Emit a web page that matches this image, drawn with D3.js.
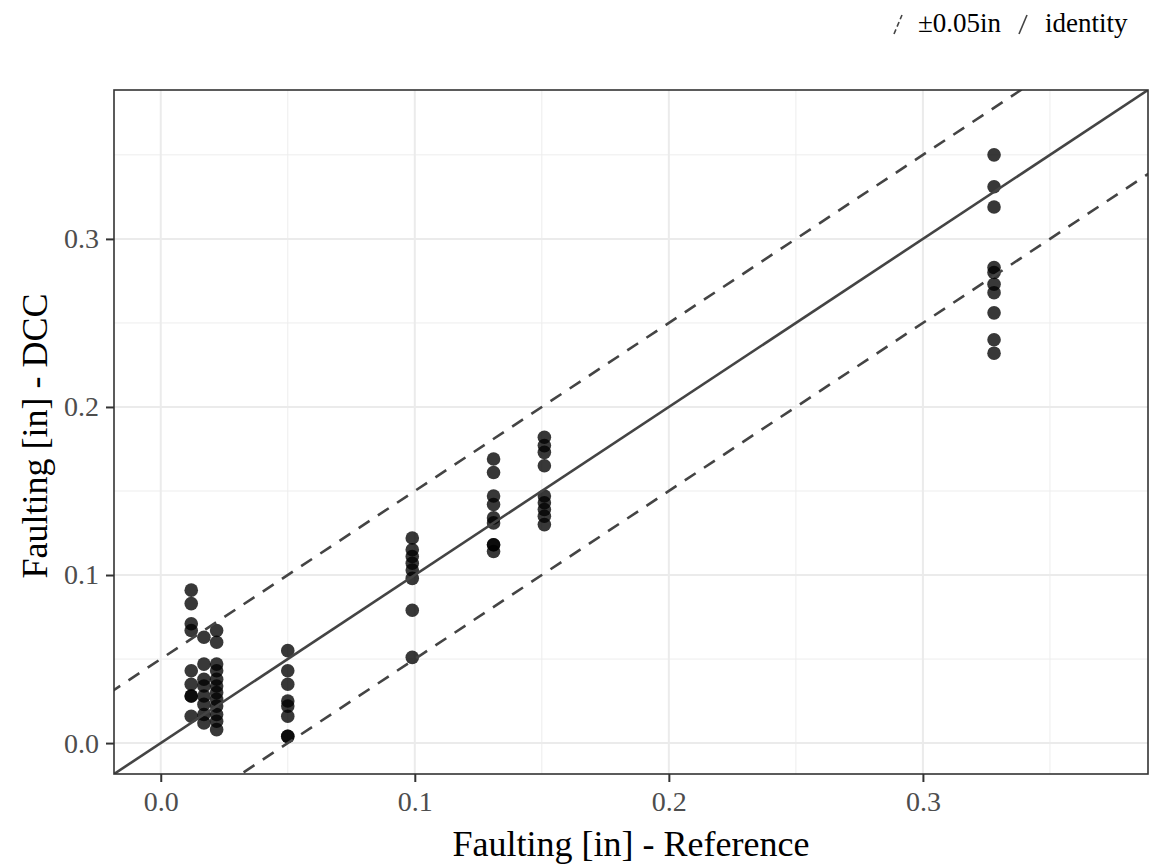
<!DOCTYPE html>
<html>
<head>
<meta charset="utf-8">
<script src="https://cdn.jsdelivr.net/npm/d3@7"></script>
<style>
  body { margin: 0; background: #fff; }
  text { font-family: "Liberation Serif", "Times New Roman", serif; }
</style>
</head>
<body>
<div id="chart"></div>
<script>
// reference faulting levels (x) and the DCC readings measured at each level (y)
const refLevels = [0.012, 0.017, 0.022, 0.050, 0.099, 0.131, 0.151, 0.328];
const dcc012 = [0.091, 0.083, 0.071, 0.067, 0.043, 0.035, 0.028, 0.028, 0.016];
const dcc017 = [0.063, 0.047, 0.038, 0.034, 0.028, 0.023, 0.017, 0.012];
const dcc022 = [0.067, 0.060, 0.047, 0.043, 0.038, 0.034, 0.030, 0.026, 0.022, 0.017, 0.013, 0.008];
const dcc050 = [0.055, 0.043, 0.035, 0.025, 0.022, 0.016, 0.004, 0.004];
const dcc099 = [0.122, 0.115, 0.111, 0.107, 0.103, 0.098, 0.079, 0.051];
const dcc131 = [0.169, 0.161, 0.147, 0.142, 0.134, 0.131, 0.118, 0.118, 0.114];
const dcc151 = [0.182, 0.177, 0.173, 0.165, 0.147, 0.143, 0.139, 0.135, 0.130];
const dcc328 = [0.350, 0.331, 0.319, 0.283, 0.280, 0.273, 0.268, 0.256, 0.240, 0.232];
const dccByLevel = [dcc012, dcc017, dcc022, dcc050, dcc099, dcc131, dcc151, dcc328];

const axisLimits = [-0.0184, 0.3886];
const majorTicks = [0, 0.1, 0.2, 0.3];
const minorTicks = [0.05, 0.15, 0.25, 0.35];
const tolerance = 0.05;
const legendLabels = ['\u00b10.05in', 'identity'];

const data = [];
refLevels.forEach((r, i) => dccByLevel[i].forEach(v => data.push({ ref: r, dcc: v })));

const width = 1163, height = 864;
const margin = { top: 90, right: 15, bottom: 90, left: 114 };
const w = width - margin.left - margin.right;
const h = height - margin.top - margin.bottom;

const svg = d3.select('#chart').append('svg')
    .attr('width', width)
    .attr('height', height);

const g = svg.append('g')
    .attr('transform', 'translate(' + margin.left + ',' + margin.top + ')');

const x = d3.scaleLinear().domain(axisLimits).range([0, w]);
const y = d3.scaleLinear().domain(axisLimits).range([h, 0]);

g.append('clipPath').attr('id', 'clip')
  .append('rect').attr('width', w).attr('height', h);

// grid lines
const grid = g.append('g');
minorTicks.forEach(t => {
    grid.append('line').attr('x1', x(t)).attr('x2', x(t)).attr('y1', 0).attr('y2', h)
        .style('stroke', '#ededed').style('stroke-width', 1);
    grid.append('line').attr('y1', y(t)).attr('y2', y(t)).attr('x1', 0).attr('x2', w)
        .style('stroke', '#ededed').style('stroke-width', 1);
});
majorTicks.forEach(t => {
    grid.append('line').attr('x1', x(t)).attr('x2', x(t)).attr('y1', 0).attr('y2', h)
        .style('stroke', '#ebebeb').style('stroke-width', 2);
    grid.append('line').attr('y1', y(t)).attr('y2', y(t)).attr('x1', 0).attr('x2', w)
        .style('stroke', '#ebebeb').style('stroke-width', 2);
});

// points
g.append('g').attr('clip-path', 'url(#clip)')
  .selectAll('circle')
  .data(data)
  .enter().append('circle')
    .attr('cx', d => x(d.ref))
    .attr('cy', d => y(d.dcc))
    .attr('r', 6.8)
    .style('fill', '#000')
    .style('fill-opacity', 0.78);

// identity and +/- tolerance lines
const lines = g.append('g').attr('clip-path', 'url(#clip)');
const ends = [axisLimits[0] - 0.1, axisLimits[1] + 0.1];
[[0, null], [tolerance, '13,10'], [-tolerance, '13,10']].forEach(([off, dash]) => {
    lines.append('line')
        .attr('x1', x(ends[0])).attr('y1', y(ends[0] + off))
        .attr('x2', x(ends[1])).attr('y2', y(ends[1] + off))
        .style('stroke', '#444')
        .style('stroke-width', 2.6)
        .style('stroke-dasharray', dash);
});

// axes
const xAxis = g.append('g')
    .attr('transform', 'translate(0,' + h + ')')
    .call(d3.axisBottom(x).tickValues(majorTicks).tickFormat(d3.format('.1f')).tickSize(8).tickPadding(9));
const yAxis = g.append('g')
    .call(d3.axisLeft(y).tickValues(majorTicks).tickFormat(d3.format('.1f')).tickSize(8).tickPadding(7));
[xAxis, yAxis].forEach(a => {
    a.select('.domain').remove();
    a.selectAll('line').style('stroke', '#333').style('stroke-width', 2);
    a.selectAll('text').style('font-size', '28px').style('fill', '#4d4d4d')
        .style('font-family', '"Liberation Serif", serif');
});
xAxis.selectAll('text').attr('dy', '0.71em');

// panel border
g.append('rect').attr('width', w).attr('height', h)
    .style('fill', 'none').style('stroke', '#333').style('stroke-width', 1.6);

// axis titles
svg.append('text')
    .attr('x', margin.left + w / 2).attr('y', 856)
    .attr('text-anchor', 'middle')
    .style('font-size', '36px')
    .text('Faulting [in] - Reference');
svg.append('text')
    .attr('transform', 'translate(47,' + (margin.top + h / 2 + 4) + ') rotate(-90)')
    .attr('text-anchor', 'middle')
    .style('font-size', '36px')
    .text('Faulting [in] - DCC');

// legend
const legend = svg.append('g');
const keyX = [894, 1019];
const textX = [918, 1045];
legendLabels.forEach((lab, i) => {
    legend.append('line')
        .attr('x1', keyX[i]).attr('y1', 34).attr('x2', keyX[i] + 8).attr('y2', 15)
        .style('stroke', '#444').style('stroke-width', 1.6)
        .style('stroke-dasharray', i === 0 ? '5,3' : null);
    legend.append('text')
        .attr('x', textX[i]).attr('y', 32)
        .style('font-size', '27px')
        .text(lab);
});
</script>
</body>
</html>
